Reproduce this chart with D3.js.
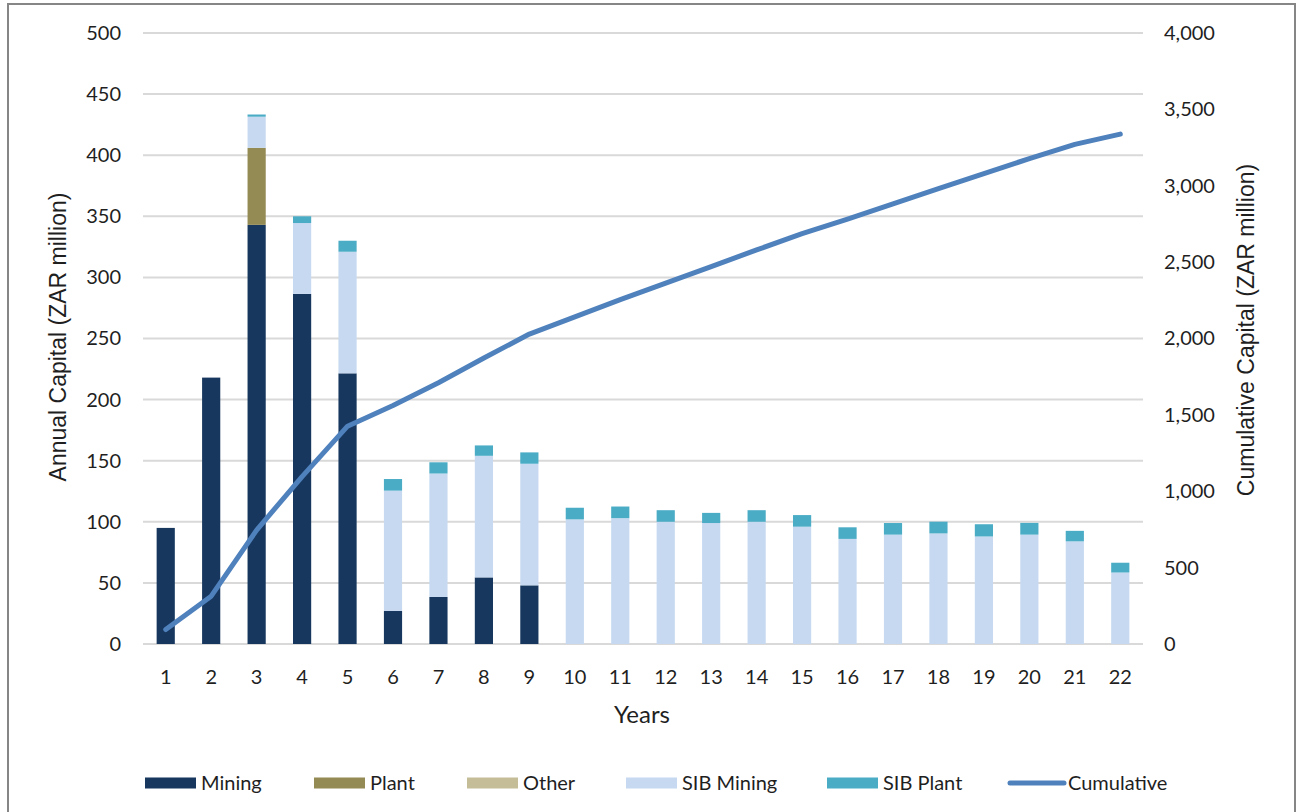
<!DOCTYPE html>
<html>
<head>
<meta charset="utf-8">
<script src="https://cdn.jsdelivr.net/npm/d3@7"></script>
<style>
  html, body { margin: 0; padding: 0; background: #fff; }
  svg { display: block; }
</style>
</head>
<body>
<svg id="chart" width="1301" height="812"></svg>
<script>
// Annual capital by component (ZAR million), years 1–22
const years = ["1","2","3","4","5","6","7","8","9","10","11","12","13","14","15","16","17","18","19","20","21","22"];
const mining    = [95, 218, 343, 286.5, 221.5, 27, 38.5, 54.5, 48, 0, 0, 0, 0, 0, 0, 0, 0, 0, 0, 0, 0, 0];
const plant     = [0, 0, 63, 0, 0, 0, 0, 0, 0, 0, 0, 0, 0, 0, 0, 0, 0, 0, 0, 0, 0, 0];
const other     = [0, 0, 0, 0, 0, 0, 0, 0, 0, 0, 0, 0, 0, 0, 0, 0, 0, 0, 0, 0, 0, 0];
const sibMining = [0, 0, 25.5, 58, 99.5, 98.5, 101, 99.5, 99.5, 102, 103, 100, 99, 100, 96, 86, 89.5, 90.5, 88, 89.5, 84, 58.5];
const sibPlant  = [0, 0, 1.8, 5.5, 9, 9.5, 9.2, 8.5, 9.3, 9.5, 9.5, 9.5, 8.3, 9.5, 9.5, 9.5, 9.5, 9.6, 10, 9.6, 8.6, 8];
// Running total of annual capital
const cumulative = [95, 313, 746, 1096, 1426, 1561, 1710, 1872, 2029, 2141, 2254, 2363, 2471, 2580, 2686, 2782, 2881, 2981, 3079, 3178, 3271, 3338];

const leftTicks  = [0, 50, 100, 150, 200, 250, 300, 350, 400, 450, 500];
const rightTicks = [0, 500, 1000, 1500, 2000, 2500, 3000, 3500, 4000];

const seriesNames  = ["Mining", "Plant", "Other", "SIB Mining", "SIB Plant"];
const seriesData   = [mining, plant, other, sibMining, sibPlant];
const seriesColors = ["#17375E", "#948A54", "#C4BD97", "#C6D9F1", "#4BACC6"];
const lineColor = "#4F81BD";

const tickFont = "Lato, 'Open Sans', sans-serif";
const titleFont = "'Liberation Sans', Arial, sans-serif";
const textColor = "#1f1f1f";

const svg = d3.select("#chart");

// Outer frame
svg.append("rect")
  .attr("x", 8).attr("y", 4).attr("width", 1287).attr("height", 820)
  .attr("fill", "none").attr("stroke", "#868686").attr("stroke-width", 2);

const plot = { left: 143, right: 1143, top: 33, bottom: 644 };

const x = d3.scaleBand().domain(years).range([plot.left, plot.right]).padding(0);
const barW = x.bandwidth() * 0.4;
const yL = d3.scaleLinear().domain([0, 500]).range([plot.bottom, plot.top]);
const yR = d3.scaleLinear().domain([0, 4000]).range([plot.bottom, plot.top]);

// Gridlines
svg.append("g").selectAll("line").data(leftTicks).join("line")
  .attr("x1", plot.left).attr("x2", plot.right)
  .attr("y1", d => yL(d)).attr("y2", d => yL(d))
  .attr("stroke", "#d9d9d9").attr("stroke-width", 2);

// Stacked bars
const rows = years.map((yr, i) => {
  const r = { year: yr };
  seriesNames.forEach((n, k) => r[n] = seriesData[k][i]);
  return r;
});
const stack = d3.stack().keys(seriesNames)(rows);

svg.append("g").selectAll("g").data(stack).join("g")
  .attr("fill", (d, k) => seriesColors[k])
  .selectAll("rect").data(d => d.filter(s => s[1] - s[0] > 0)).join("rect")
  .attr("x", d => x(d.data.year) + (x.bandwidth() - barW) / 2)
  .attr("width", barW)
  .attr("y", d => yL(d[1]))
  .attr("height", d => yL(d[0]) - yL(d[1]));

// Cumulative line
const line = d3.line()
  .x((d, i) => x(years[i]) + x.bandwidth() / 2)
  .y(d => yR(d));
svg.append("path").datum(cumulative)
  .attr("d", line)
  .attr("fill", "none").attr("stroke", lineColor)
  .attr("stroke-width", 5).attr("stroke-linecap", "round").attr("stroke-linejoin", "round");

// Left axis
const axL = d3.axisLeft(yL).tickValues(leftTicks).tickSize(0).tickPadding(0);
const gL = svg.append("g").attr("transform", `translate(${plot.left - 22},0)`).call(axL);
gL.select(".domain").remove();
gL.selectAll("text").attr("font-family", tickFont).attr("font-size", 20).attr("fill", textColor);

// Right axis
const axR = d3.axisRight(yR).tickValues(rightTicks).tickSize(0).tickPadding(0)
  .tickFormat(d3.format(","));
const gR = svg.append("g").attr("transform", `translate(${plot.right + 21},0)`).call(axR);
gR.select(".domain").remove();
gR.selectAll("text").attr("font-family", tickFont).attr("font-size", 20).attr("fill", textColor);

// Bottom axis
const axB = d3.axisBottom(x).tickSize(0).tickPadding(0);
const gB = svg.append("g").attr("transform", `translate(0,${plot.bottom + 25})`).call(axB);
gB.select(".domain").remove();
gB.selectAll("text").attr("font-family", tickFont).attr("font-size", 20).attr("fill", textColor)
  .attr("dy", "0.75em");

// Axis titles
svg.append("text")
  .attr("transform", `translate(66,337) rotate(-90)`)
  .attr("text-anchor", "middle")
  .attr("font-family", titleFont).attr("font-size", 23).attr("fill", textColor)
  .text("Annual Capital (ZAR million)");

svg.append("text")
  .attr("transform", `translate(1254,330) rotate(-90)`)
  .attr("text-anchor", "middle")
  .attr("font-family", titleFont).attr("font-size", 23).attr("fill", textColor)
  .text("Cumulative Capital (ZAR million)");

svg.append("text")
  .attr("x", 642).attr("y", 723)
  .attr("text-anchor", "middle")
  .attr("font-family", tickFont).attr("font-size", 24).attr("fill", textColor)
  .text("Years");

// Legend
const legendItems = seriesNames.map((n, k) => ({ name: n, color: seriesColors[k], type: "rect" }))
  .concat([{ name: "Cumulative", color: lineColor, type: "line" }]);
const legendX = [145, 314, 467, 626, 827, 1008];
const lg = svg.append("g");
legendItems.forEach((d, i) => {
  const g = lg.append("g").attr("transform", `translate(${legendX[i]},783)`);
  if (d.type === "rect") {
    g.append("rect").attr("x", 0).attr("y", -5.5).attr("width", 51).attr("height", 11).attr("fill", d.color);
  } else {
    g.append("line").attr("x1", 2).attr("x2", 56).attr("y1", 0).attr("y2", 0)
      .attr("stroke", d.color).attr("stroke-width", 5).attr("stroke-linecap", "round");
  }
  g.append("text").attr("x", d.type === "rect" ? 56 : 60).attr("y", 0).attr("dy", "0.35em")
    .attr("font-family", tickFont).attr("font-size", 20).attr("fill", textColor)
    .text(d.name);
});
</script>
</body>
</html>
